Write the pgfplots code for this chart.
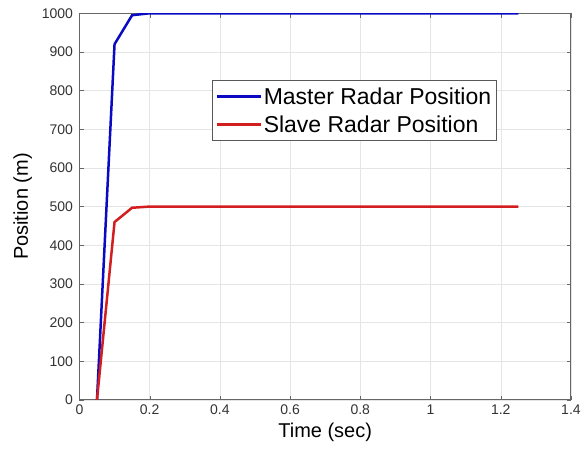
\documentclass[border={10pt 6pt 0pt 5pt}]{standalone}
\usepackage{pgfplots}
\pgfplotsset{compat=1.18}
\usepackage{fontspec}
\setmainfont{Liberation Sans}
\definecolor{mblue}{RGB}{10,10,195}
\definecolor{mred}{RGB}{210,30,30}
\begin{document}
\begin{tikzpicture}
\begin{axis}[
  scale only axis,
  width=492pt, height=387pt,
  xmin=0, xmax=1.4, ymin=0, ymax=1000,
  xtick={0,0.2,...,1.4},
  ytick={0,100,...,1000},
  xticklabels={0,0.2,0.4,0.6,0.8,1,1.2,1.4},
  /pgf/number format/assume math mode=true,
  /pgf/number format/1000 sep={},
  tick label style={font=\fontsize{14}{16}\selectfont, text=black!80},
  yticklabel style={xshift=-3pt},
  xticklabel style={yshift=-1pt},
  label style={font=\fontsize{20}{23}\selectfont},
  ylabel style={yshift=3pt},
  xlabel style={yshift=-2pt},
  xlabel={Time (sec)},
  ylabel={Position (m)},
  grid=major,
  major grid style={gray!20},
  axis line style={gray!80!black, line width=1pt},
  tick style={gray!80!black},
  tick align=inside,
  xtick pos=both, ytick pos=both,
  legend style={at={(axis cs:0.378,827)}, anchor=north west, font=\fontsize{23}{26}\selectfont, draw=gray!70!black, inner xsep=3pt, inner ysep=5pt, row sep=6pt},
  legend cell align=left,
  legend image code/.code={\draw[#1, line width=2.5pt] (0pt,0pt) -- (44pt,0pt);},
]
\addplot[mblue, line width=2.5pt] coordinates {(0.05,0) (0.1,920) (0.15,995) (0.2,1000) (0.25,1000) (1.25,1000)};
\addlegendentry{Master Radar Position}
\addplot[mred, line width=2.5pt] coordinates {(0.05,0) (0.1,460) (0.15,497) (0.2,500) (0.25,500) (1.25,500)};
\addlegendentry{Slave Radar Position}
\end{axis}
\end{tikzpicture}
\end{document}
